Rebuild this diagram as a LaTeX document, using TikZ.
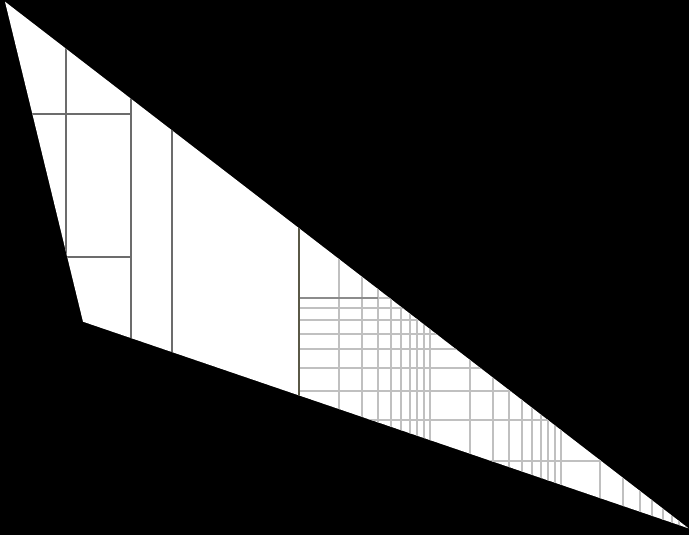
\documentclass[tikz,border=0pt]{standalone}
\definecolor{lightgrid}{HTML}{C0C0C0}
\definecolor{darkgrid}{HTML}{6C6C6C}
\definecolor{olivegrid}{HTML}{5A5846}
\definecolor{midgrid}{HTML}{8C8C8C}
\tikzset{
  lightline/.style={draw=lightgrid, line width=2pt},
  darkline/.style={draw=darkgrid, line width=1.8pt},
  oliveline/.style={draw=olivegrid, line width=1.8pt},
  midline/.style={draw=midgrid, line width=2pt}
}
\begin{document}
\begin{tikzpicture}[x=1pt,y=-1pt]
\fill[black] (0,0) rectangle (689,535);
\useasboundingbox (0,0) rectangle (689,535);
\coordinate (A) at (5,1.7);
\coordinate (B) at (83,321.7);
\coordinate (C) at (688.5,528.3);
\fill[white] (A) -- (B) -- (C) -- cycle;
\begin{scope}
  \clip (A) -- (B) -- (C) -- cycle;
  \begin{scope}
    \clip (299,0) rectangle (700,535);
    \foreach \n in {0,1,2}{
      \foreach \k in {2,...,10}{
        \draw[lightline] ({299.3+130.85*(\n+log10(\k))},0) -- ++(0,535);
      }
    }
    \foreach \k in {2,...,10}{
      \draw[lightline] (290,{530.8-233*log10(\k)}) -- (700,{530.8-233*log10(\k)});
    }
    \draw[midline] (299,297.8) -- (378,297.8);
  \end{scope}
  \draw[darkline] (66,0) -- (66,535);
  \draw[darkline] (131,0) -- (131,535);
  \draw[darkline] (172,0) -- (172,535);
  \draw[darkline] (0,114) -- (131,114);
  \draw[darkline] (0,257) -- (131,257);
  \draw[oliveline] (299.3,0) -- (299.3,535);
\end{scope}
\end{tikzpicture}
\end{document}
